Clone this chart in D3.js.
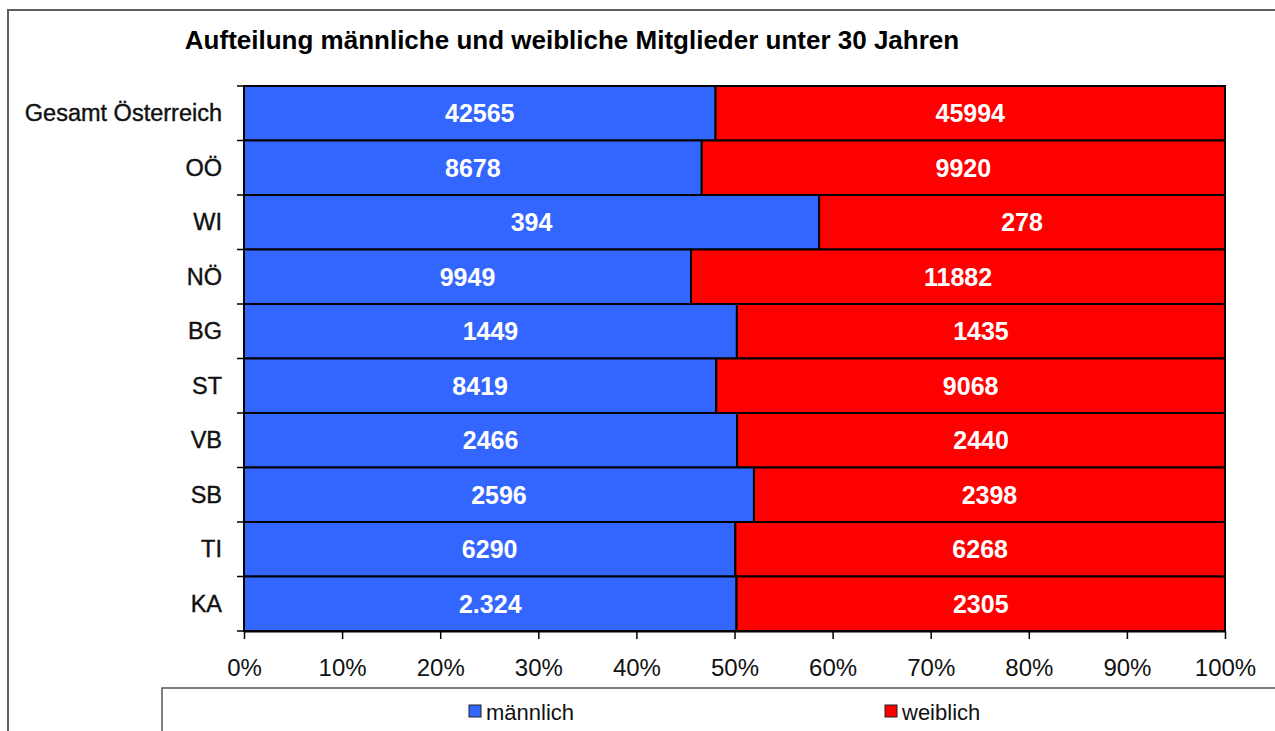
<!DOCTYPE html>
<html>
<head>
<meta charset="utf-8">
<script src="https://cdn.jsdelivr.net/npm/d3@7"></script>
<style>
  body { margin: 0; background: #fff; }
  svg { display: block; font-family: Arial, "Liberation Sans", sans-serif; }
</style>
</head>
<body>
<div id="chart"></div>
<script>
// data
const categories = ['Gesamt Österreich', 'OÖ', 'WI', 'NÖ', 'BG', 'ST', 'VB', 'SB', 'TI', 'KA'];
const maennlich = [42565, 8678, 394, 9949, 1449, 8419, 2466, 2596, 6290, 2324];
const weiblich = [45994, 9920, 278, 11882, 1435, 9068, 2440, 2398, 6268, 2305];
const maennlichLabels = ['42565', '8678', '394', '9949', '1449', '8419', '2466', '2596', '6290', '2.324'];
const weiblichLabels = ['45994', '9920', '278', '11882', '1435', '9068', '2440', '2398', '6268', '2305'];
const seriesNames = ['männlich', 'weiblich'];
const tickValues = [0, 0.1, 0.2, 0.3, 0.4, 0.5, 0.6, 0.7, 0.8, 0.9, 1];

const width = 1275;
const height = 731;
const plotLeft = 244, plotRight = 1225, plotTop = 86, plotBottom = 631;
const colors = ['#3366ff', '#ff0000'];

const svg = d3.select('#chart')
  .append('svg')
  .attr('width', width)
  .attr('height', height);

// outer frame (only top and left visible)
svg.append('path')
  .attr('d', `M8,${height + 5}V10H${width + 5}`)
  .attr('fill', 'none')
  .attr('stroke', '#606060')
  .attr('stroke-width', 2);

svg.append('text')
  .attr('x', 572)
  .attr('y', 49)
  .attr('text-anchor', 'middle')
  .attr('font-size', 26)
  .attr('font-weight', 'bold')
  .text('Aufteilung männliche und weibliche Mitglieder unter 30 Jahren');

const rows = categories.map((c, i) => {
  const total = maennlich[i] + weiblich[i];
  return { cat: c, m: maennlich[i] / total, w: weiblich[i] / total, mLabel: maennlichLabels[i], wLabel: weiblichLabels[i] };
});

const x = d3.scaleLinear().domain([0, 1]).range([plotLeft, plotRight]);
const y = d3.scaleBand().domain(categories).range([plotTop, plotBottom]).padding(0);

const rowG = svg.selectAll('.row')
  .data(rows)
  .enter()
  .append('g')
  .attr('class', 'row');

rowG.append('rect')
  .attr('x', x(0))
  .attr('y', d => y(d.cat))
  .attr('width', d => x(d.m) - x(0))
  .attr('height', y.bandwidth())
  .attr('fill', colors[0])
  .attr('stroke', '#000')
  .attr('stroke-width', 2);

rowG.append('rect')
  .attr('x', d => x(d.m))
  .attr('y', d => y(d.cat))
  .attr('width', d => x(1) - x(d.m))
  .attr('height', y.bandwidth())
  .attr('fill', colors[1])
  .attr('stroke', '#000')
  .attr('stroke-width', 2);

rowG.append('text')
  .attr('x', d => (x(0) + x(d.m)) / 2)
  .attr('y', d => y(d.cat) + y.bandwidth() / 2 + 9)
  .attr('text-anchor', 'middle')
  .attr('fill', '#fff')
  .attr('font-size', 25)
  .attr('font-weight', 'bold')
  .text(d => d.mLabel);

rowG.append('text')
  .attr('x', d => (x(d.m) + x(1)) / 2)
  .attr('y', d => y(d.cat) + y.bandwidth() / 2 + 9)
  .attr('text-anchor', 'middle')
  .attr('fill', '#fff')
  .attr('font-size', 25)
  .attr('font-weight', 'bold')
  .text(d => d.wLabel);

// left axis: line + ticks at band boundaries
const yAxis = svg.append('g').attr('id', 'y-axis');
yAxis.append('line')
  .attr('x1', plotLeft).attr('x2', plotLeft)
  .attr('y1', plotTop).attr('y2', plotBottom)
  .attr('stroke', '#000').attr('stroke-width', 2);
yAxis.selectAll('.ytick')
  .data(categories.map(c => y(c)).concat([plotBottom]))
  .enter()
  .append('line')
  .attr('x1', plotLeft - 7).attr('x2', plotLeft)
  .attr('y1', d => d).attr('y2', d => d)
  .attr('stroke', '#000').attr('stroke-width', 1.5);
yAxis.selectAll('.ylabel')
  .data(categories)
  .enter()
  .append('text')
  .attr('x', 222)
  .attr('y', d => y(d) + y.bandwidth() / 2 + 8)
  .attr('text-anchor', 'end')
  .attr('font-size', 23.5)
  .attr('fill', '#111')
  .attr('stroke', '#111')
  .attr('stroke-width', 0.4)
  .text(d => d);

// bottom axis
const xAxis = d3.axisBottom(x)
  .tickValues(tickValues)
  .tickFormat(d3.format('.0%'))
  .tickSize(8)
  .tickSizeOuter(0)
  .tickPadding(20);

const xg = svg.append('g')
  .attr('id', 'x-axis')
  .attr('transform', `translate(0, ${plotBottom})`)
  .call(xAxis);
xg.select('.domain').attr('stroke-width', 2);
xg.selectAll('.tick line').attr('stroke-width', 1.5);
xg.selectAll('.tick text')
  .attr('font-size', 24)
  .attr('font-family', 'Arial, "Liberation Sans", sans-serif')
  .attr('fill', '#111');

// legend
svg.append('rect')
  .attr('x', 162)
  .attr('y', 688)
  .attr('width', width)
  .attr('height', 100)
  .attr('fill', '#fff')
  .attr('stroke', '#555')
  .attr('stroke-width', 1.5);

const legendX = [469, 885];
const legend = svg.selectAll('.legend-item')
  .data(seriesNames)
  .enter()
  .append('g')
  .attr('class', 'legend-item')
  .attr('transform', (d, i) => `translate(${legendX[i]}, 705)`);
legend.append('rect')
  .attr('width', 12).attr('height', 12)
  .attr('fill', (d, i) => colors[i])
  .attr('stroke', '#222').attr('stroke-width', 1);
legend.append('text')
  .attr('x', 17)
  .attr('y', 15)
  .attr('font-size', 22)
  .attr('fill', '#111')
  .text(d => d);
</script>
</body>
</html>
